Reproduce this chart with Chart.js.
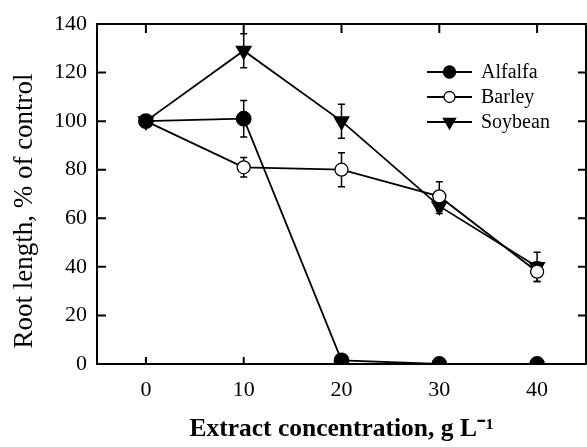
<!DOCTYPE html>
<html>
<head>
<meta charset="utf-8">
<script src="https://cdn.jsdelivr.net/npm/chart.js@4.4.0/dist/chart.umd.min.js"></script>
<style>
  html, body { margin: 0; padding: 0; background: #fff; overflow: hidden; }
  #wrap { width: 587px; height: 447px; }
  canvas { display: block; }
</style>
</head>
<body>
<div id="wrap"><canvas id="rootChart" width="587" height="447"></canvas></div>
<script>
// data
const concentrations = [0, 10, 20, 30, 40];
const alfalfa = [100, 101, 1.5, 0, 0];
const alfalfaErr = [0, 7.5, 0, 0, 0];
const barley = [100, 81, 80, 69, 38];
const barleyErr = [0, 4, 7, 6, 4];
const soybean = [100, 129, 100, 65, 40];
const soybeanErr = [0, 7, 7, 3, 6];
const xTicks = [0, 10, 20, 30, 40];
const yTicks = [0, 20, 40, 60, 80, 100, 120, 140];
const yTitle = 'Root length, % of control';

const serif = "'Liberation Serif', 'Times New Roman', serif";
const plotRight = 586;

function toPoints(vals) {
  return concentrations.map((x, i) => ({ x: x, y: vals[i] }));
}

// stretch the plot out to the right edge (layout keeps a few px spare otherwise)
const fullWidth = {
  id: 'fullWidth',
  afterLayout(chart) {
    const xs = chart.scales.x, a = chart.chartArea;
    xs.right = plotRight;
    xs.width = plotRight - xs.left;
    a.right = plotRight;
    a.width = plotRight - a.left;
    xs.configure();
  }
};

// vertical error bars with small caps, under the markers
const errorBars = {
  id: 'errorBars',
  beforeDatasetsDraw(chart) {
    const ctx = chart.ctx;
    const xs = chart.scales.x, ys = chart.scales.y;
    ctx.save();
    ctx.strokeStyle = '#000';
    ctx.lineWidth = 1.5;
    chart.data.datasets.forEach(ds => {
      ds.data.forEach((p, i) => {
        const e = ds.errors[i];
        if (!e) return;
        const px = xs.getPixelForValue(p.x);
        const top = ys.getPixelForValue(p.y + e);
        const bot = ys.getPixelForValue(p.y - e);
        ctx.beginPath();
        ctx.moveTo(px, top); ctx.lineTo(px, bot);
        ctx.moveTo(px - 3.5, top); ctx.lineTo(px + 3.5, top);
        ctx.moveTo(px - 3.5, bot); ctx.lineTo(px + 3.5, bot);
        ctx.stroke();
      });
    });
    ctx.restore();
  }
};

// box round the plot with inward ticks on all four sides, plus the y title
const frame = {
  id: 'frame',
  afterDraw(chart) {
    const ctx = chart.ctx, a = chart.chartArea;
    const xs = chart.scales.x, ys = chart.scales.y;
    ctx.save();
    ctx.strokeStyle = '#000';
    ctx.lineWidth = 2;
    ctx.strokeRect(a.left, a.top, a.right - a.left, a.bottom - a.top);
    ctx.beginPath();
    xTicks.forEach(v => {
      const px = xs.getPixelForValue(v);
      ctx.moveTo(px, a.bottom); ctx.lineTo(px, a.bottom - 7);
      ctx.moveTo(px, a.top); ctx.lineTo(px, a.top + 9);
    });
    yTicks.forEach(v => {
      const py = ys.getPixelForValue(v);
      ctx.moveTo(a.left, py); ctx.lineTo(a.left + 9, py);
      ctx.moveTo(a.right, py); ctx.lineTo(a.right - 8, py);
    });
    ctx.stroke();

    // rotated y title, sits a little below the plot's middle
    ctx.translate(32, 211);
    ctx.rotate(-Math.PI / 2);
    ctx.font = '27px ' + serif;
    ctx.fillStyle = '#000';
    ctx.textAlign = 'center';
    ctx.textBaseline = 'alphabetic';
    ctx.fillText(yTitle, 0, 0);
    ctx.restore();
  }
};

// legend: short line with the marker in the middle, label to the right
const lineLegend = {
  id: 'lineLegend',
  afterDraw(chart) {
    const ctx = chart.ctx;
    const x0 = 427, x1 = 472, tx = 481;
    const rows = [72, 97, 122];
    ctx.save();
    ctx.font = '20px ' + serif;
    ctx.textBaseline = 'middle';
    chart.data.datasets.forEach((ds, i) => {
      const y = rows[i];
      ctx.strokeStyle = '#000';
      ctx.lineWidth = 2;
      ctx.beginPath(); ctx.moveTo(x0, y); ctx.lineTo(x1, y); ctx.stroke();
      ctx.fillStyle = ds.pointBackgroundColor;
      ctx.lineWidth = 1.3;
      Chart.helpers.drawPoint(ctx, {
        pointStyle: ds.pointStyle,
        radius: ds.pointRadius - 1,
        rotation: ds.pointRotation || 0,
        borderWidth: 1.3
      }, (x0 + x1) / 2, y);
      ctx.fillStyle = '#000';
      ctx.fillText(ds.label, tx, y + 1);
    });
    ctx.restore();
  }
};

const rootChart = new Chart(document.getElementById('rootChart').getContext('2d'), {
  type: 'line',
  data: {
    datasets: [
      {
        label: 'Alfalfa',
        data: toPoints(alfalfa),
        errors: alfalfaErr,
        borderColor: '#000',
        borderWidth: 1.8,
        pointStyle: 'circle',
        pointRadius: 7,
        pointBackgroundColor: '#000',
        pointBorderColor: '#000',
        tension: 0
      },
      {
        label: 'Barley',
        data: toPoints(barley),
        errors: barleyErr,
        borderColor: '#000',
        borderWidth: 1.8,
        pointStyle: 'circle',
        pointRadius: 6.5,
        pointBackgroundColor: '#fff',
        pointBorderColor: '#000',
        pointBorderWidth: 1.3,
        tension: 0
      },
      {
        label: 'Soybean',
        data: toPoints(soybean),
        errors: soybeanErr,
        borderColor: '#000',
        borderWidth: 1.8,
        pointStyle: 'triangle',
        pointRotation: 180,
        pointRadius: 8,
        pointBackgroundColor: '#000',
        pointBorderColor: '#000',
        tension: 0
      }
    ]
  },
  options: {
    responsive: false,
    animation: false,
    devicePixelRatio: 1,
    layout: { padding: { top: 24, right: 1, left: 0, bottom: 0 } },
    plugins: { legend: { display: false }, tooltip: { enabled: false } },
    scales: {
      x: {
        type: 'linear', min: -5, max: 45,
        afterBuildTicks: s => { s.ticks = xTicks.map(v => ({ value: v })); },
        afterFit: s => { s.height = 83; },
        grid: { display: false },
        border: { display: false },
        ticks: { color: '#000', padding: 5, font: { family: serif, size: 22 } },
        title: {
          display: true,
          text: 'Extract concentration, g L\u207B\u00B9',
          color: '#000',
          font: { family: serif, size: 25.5, weight: 'bold' },
          padding: { top: 0, bottom: 2 }
        }
      },
      y: {
        min: 0, max: 140,
        afterBuildTicks: s => { s.ticks = yTicks.map(v => ({ value: v })); },
        afterFit: s => { s.width = 97; },
        grid: { display: false },
        border: { display: false },
        ticks: { color: '#000', padding: 2, font: { family: serif, size: 22 } },
        title: { display: false }
      }
    }
  },
  plugins: [fullWidth, errorBars, frame, lineLegend]
});
</script>
</body>
</html>
